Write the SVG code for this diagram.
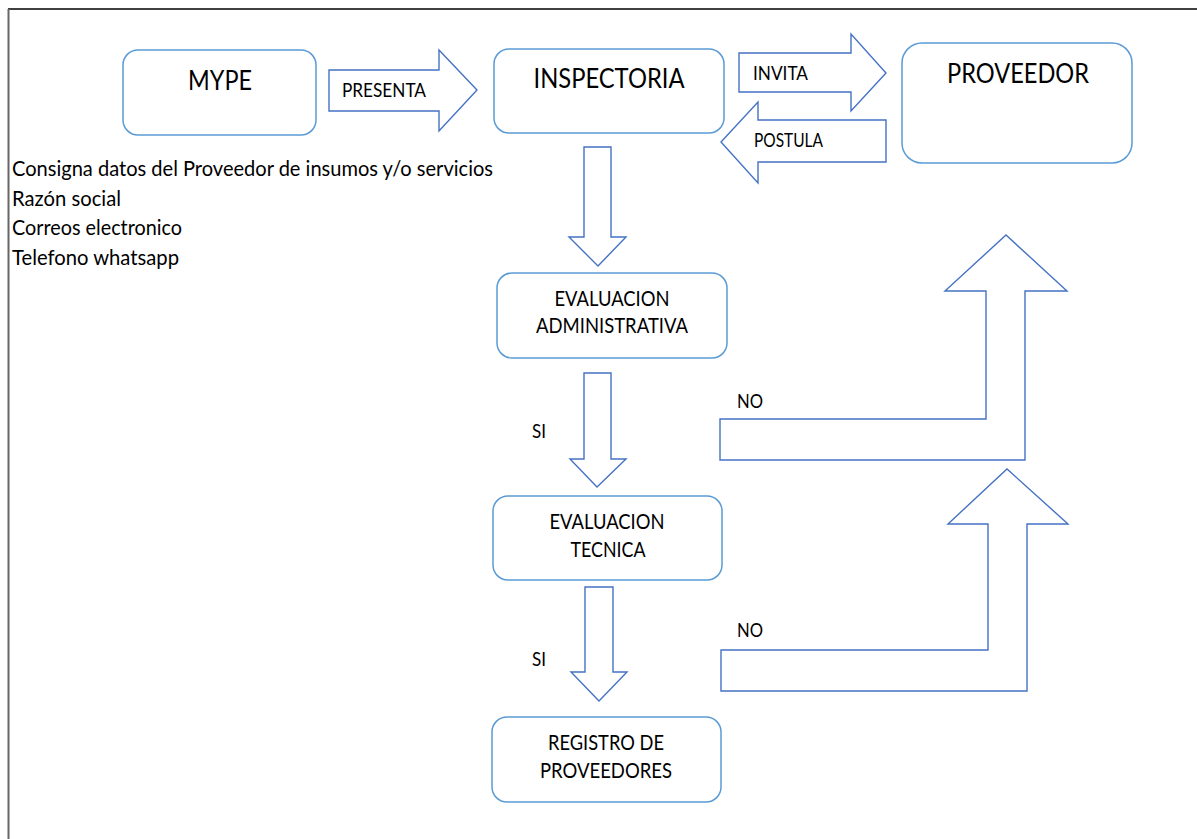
<svg xmlns="http://www.w3.org/2000/svg" width="1197" height="839" viewBox="0 0 1197 839">
<style>
.box{fill:#fff;stroke:#5B9BD5;stroke-width:1.5}
.arr{fill:#fff;stroke:#4472C4;stroke-width:1.4;stroke-linejoin:miter}
text{font-family:Lato,"Liberation Sans",sans-serif;fill:#000}
.big{font-size:27px}
.mid{font-size:21px}
.lbl{font-size:19px}
.lst{font-size:21px}
</style>
<rect width="1197" height="839" fill="#fff"/>
<g id="frame">
<line x1="8" y1="9" x2="1197" y2="9" stroke="#000" stroke-width="1.5"/>
<line x1="8.5" y1="9" x2="8.5" y2="839" stroke="#666" stroke-width="2"/>
</g>
<g id="connectors">
<polygon class="arr" points="329,70 439,70 439,50 477,90 439,131 439,111 329,111"/>
<polygon class="arr" points="739,53 851,53 851,34 886,73 851,111 851,92 739,92"/>
<polygon class="arr" points="886,120 758,120 758,102 721,142 758,183 758,162 886,162"/>
<polygon class="arr" points="584,147 611,147 611,237 626,237 598,266 569,237 584,237"/>
<polygon class="arr" points="584,373 611,373 611,459 626,459 597,487 570,459 584,459"/>
<polygon class="arr" points="585,587 613,587 613,672 627,672 599,701 571,672 585,672"/>
<polygon class="arr" points="720,419 986,419 986,291 945,291 1006,235 1067,291 1025,291 1025,460 720,460"/>
<polygon class="arr" points="721,650 988,650 988,524 948,524 1007,469 1068,524 1027,524 1027,691 721,691"/>
<text class="lbl" x="342" y="97" textLength="84" lengthAdjust="spacingAndGlyphs">PRESENTA</text>
<text class="lbl" x="753" y="80" textLength="55" lengthAdjust="spacingAndGlyphs">INVITA</text>
<text class="lbl" x="754" y="147" textLength="69" lengthAdjust="spacingAndGlyphs">POSTULA</text>
<text class="lbl" x="532" y="438" textLength="14" lengthAdjust="spacingAndGlyphs">SI</text>
<text class="lbl" x="737" y="408" textLength="26" lengthAdjust="spacingAndGlyphs">NO</text>
<text class="lbl" x="532" y="666" textLength="14" lengthAdjust="spacingAndGlyphs">SI</text>
<text class="lbl" x="737" y="637" textLength="26" lengthAdjust="spacingAndGlyphs">NO</text>
</g>
<g id="mype">
<rect class="box" x="123" y="50" width="193" height="85" rx="15"/>
<text class="big" x="220" y="90" text-anchor="middle" textLength="64" lengthAdjust="spacingAndGlyphs">MYPE</text>
</g>
<g id="inspectoria">
<rect class="box" x="494" y="49" width="230" height="84" rx="15"/>
<text class="big" x="609" y="88" text-anchor="middle" textLength="151" lengthAdjust="spacingAndGlyphs">INSPECTORIA</text>
</g>
<g id="proveedor">
<rect class="box" x="902" y="43" width="230" height="120" rx="20"/>
<text class="big" x="1018" y="83" text-anchor="middle" textLength="142" lengthAdjust="spacingAndGlyphs">PROVEEDOR</text>
</g>
<g id="notes">
<text class="lst" x="12" y="176" textLength="481" lengthAdjust="spacingAndGlyphs">Consigna datos del Proveedor de insumos y/o servicios</text>
<text class="lst" x="12" y="205.5" textLength="109" lengthAdjust="spacingAndGlyphs">Razón social</text>
<text class="lst" x="12" y="235" textLength="170" lengthAdjust="spacingAndGlyphs">Correos electronico</text>
<text class="lst" x="12" y="264.5" textLength="167" lengthAdjust="spacingAndGlyphs">Telefono whatsapp</text>
</g>
<g id="eval-admin">
<rect class="box" x="497" y="273" width="230" height="85" rx="15"/>
<text class="mid" x="612" y="306" text-anchor="middle" textLength="115" lengthAdjust="spacingAndGlyphs">EVALUACION</text>
<text class="mid" x="612" y="333" text-anchor="middle" textLength="152" lengthAdjust="spacingAndGlyphs">ADMINISTRATIVA</text>
</g>
<g id="eval-tecnica">
<rect class="box" x="493" y="496" width="229" height="84" rx="15"/>
<text class="mid" x="607" y="529" text-anchor="middle" textLength="115" lengthAdjust="spacingAndGlyphs">EVALUACION</text>
<text class="mid" x="608" y="557" text-anchor="middle" textLength="75" lengthAdjust="spacingAndGlyphs">TECNICA</text>
</g>
<g id="registro">
<rect class="box" x="492" y="717" width="229" height="85" rx="15"/>
<text class="mid" x="606" y="750" text-anchor="middle" textLength="116" lengthAdjust="spacingAndGlyphs">REGISTRO DE</text>
<text class="mid" x="606" y="778" text-anchor="middle" textLength="132" lengthAdjust="spacingAndGlyphs">PROVEEDORES</text>
</g>
</svg>
